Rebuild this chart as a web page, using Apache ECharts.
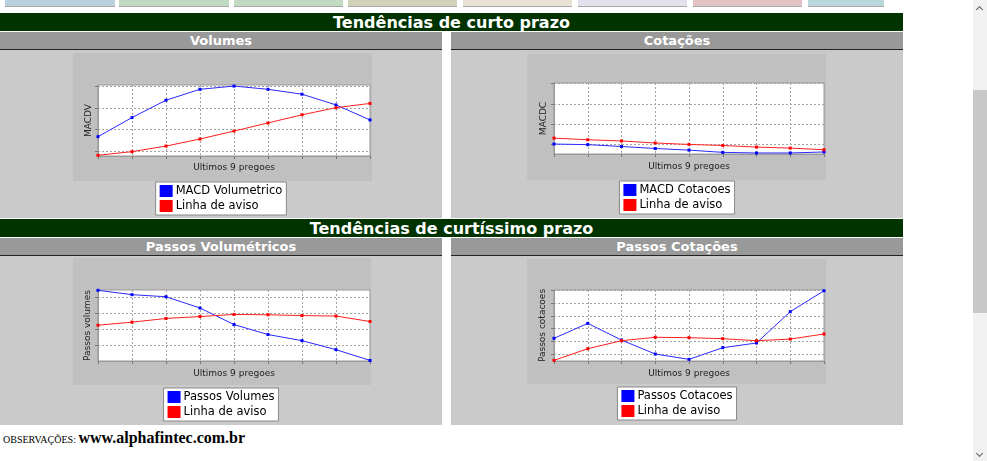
<!DOCTYPE html>
<html>
<head>
<meta charset="utf-8">
<title>Tendências</title>
<script src="https://cdn.jsdelivr.net/npm/echarts@6/dist/echarts.min.js"></script>
<style>
    body { margin:0; width:987px; height:461px; overflow:hidden; position:relative; background:#fff; font-family:"DejaVu Sans", Verdana, sans-serif; }
    .tab { position:absolute; top:0; height:6px; border-bottom:1px solid #a8a8a8; }
    .hdr { position:absolute; left:0; width:903px; height:18px; background:#003300; color:#fff; font-weight:bold; font-size:16px; line-height:19px; text-align:center; white-space:nowrap; }
    .sub { position:absolute; height:17px; background:#999; border-bottom:1px solid #222; color:#fff; font-weight:bold; font-size:13px; line-height:17px; text-align:center; }
    .panel { position:absolute; background:#cacaca; }
</style>
</head>
<body>
<div class="tab" style="left:5px;width:110px;background:#b9d1dc"></div>
<div class="tab" style="left:119px;width:110px;background:#c2d9c2"></div>
<div class="tab" style="left:234px;width:109px;background:#c2d9c2"></div>
<div class="tab" style="left:348px;width:109px;background:#d2d2b9"></div>
<div class="tab" style="left:463px;width:109px;background:#ebe2d6"></div>
<div class="tab" style="left:578px;width:109px;background:#e2e2ec"></div>
<div class="tab" style="left:693px;width:109px;background:#e2c2c4"></div>
<div class="tab" style="left:808px;width:76px;background:#bad9dd"></div>

<div class="hdr" style="top:13px">Tendências de curto prazo</div>
<div class="sub" style="top:32px;left:0;width:442px">Volumes</div>
<div class="sub" style="top:32px;left:451px;width:452px">Cotações</div>
<div class="panel" id="p1" style="top:50px;left:0;width:442px;height:168px"></div>
<div class="panel" id="p2" style="top:50px;left:451px;width:452px;height:168px"></div>

<div class="hdr" style="top:219px">Tendências de curtíssimo prazo</div>
<div class="sub" style="top:238px;left:0;width:442px">Passos Volumétricos</div>
<div class="sub" style="top:238px;left:451px;width:452px">Passos Cotações</div>
<div class="panel" id="p3" style="top:256px;left:0;width:442px;height:169px"></div>
<div class="panel" id="p4" style="top:256px;left:451px;width:452px;height:169px"></div>

<div style="position:absolute;left:3px;top:428px;white-space:nowrap">
    <span style="font-family:'Liberation Serif',serif;font-size:10px">OBSERVAÇÕES: </span><b style="font-family:'Liberation Serif',serif;font-size:16px">www.alphafintec.com.br</b>
</div>

<div style="position:absolute;left:973px;top:0;width:14px;height:461px;background:#f1f1f1"></div>
<div style="position:absolute;left:973px;top:90px;width:14px;height:223px;background:#c8c8c8"></div>
<div style="position:absolute;left:977px;top:7px;width:4px;height:4px;border-top:1.5px solid #606060;border-left:1.5px solid #606060;transform:rotate(45deg)"></div>
<div style="position:absolute;left:977px;top:451px;width:4px;height:4px;border-bottom:1.5px solid #606060;border-right:1.5px solid #606060;transform:rotate(45deg)"></div>

<script>
// ultimos 9 pregoes
var days = ['1', '2', '3', '4', '5', '6', '7', '8', '9'];

// tendencias de curto prazo
var macdVolumetrico = [0.67, 1.56, 2.37, 2.88, 3.03, 2.88, 2.65, 2.15, 1.45];
var avisoVolumes = [-0.2, -0.03, 0.23, 0.56, 0.93, 1.31, 1.69, 2.02, 2.22];
var ticksVolumes = [0, 1, 2, 3];

var macdCotacoes = [0.02, -0.01, -0.1, -0.2, -0.28, -0.39, -0.42, -0.42, -0.37];
var avisoCotacoes = [0.31, 0.23, 0.17, 0.07, 0.0, -0.05, -0.13, -0.18, -0.26];
var ticksCotacoes = [0, 1, 2, 3];

// tendencias de curtissimo prazo
var passosVolumes = [3.43, 3.16, 3.03, 2.33, 1.3, 0.68, 0.3, -0.26, -0.93];
var avisoPassosVol = [1.26, 1.45, 1.68, 1.8, 1.93, 1.91, 1.86, 1.83, 1.49];
var ticksPassosVol = [0, 1, 2, 3];

var passosCotacoes = [1.24, 2.42, 1.1, 0, -0.42, 0.5, 0.87, 3.34, 4.99];
var avisoPassosCot = [-0.5, 0.42, 1.05, 1.32, 1.29, 1.21, 1.05, 1.18, 1.58];
var ticksPassosCot = [0, 1, 2, 3, 4, 5];

var font = 'DejaVu Sans';

function makeChart(id, c){
    var chart = echarts.init(document.getElementById(id));
    chart.setOption({
        animation: false,
        graphic: [{
            type: 'rect', silent: true, z: -1,
            shape: c.box,
            style: { fill: '#c0c0c0' }
        }],
        grid: {
            left: c.grid[0], top: c.grid[1], width: c.grid[2], height: c.grid[3],
            show: true, backgroundColor: '#fff', borderColor: '#999', borderWidth: 1,
            outerBoundsMode: 'none'
        },
        legend: {
            orient: 'vertical', left: 'center', top: c.legendTop,
            backgroundColor: '#fff', borderColor: '#888', borderWidth: 1,
            padding: [3, 4, 3, 4], itemGap: 3, itemWidth: 13, itemHeight: 12,
            icon: 'rect',
            textStyle: { fontFamily: font, fontSize: 11.5, color: '#000', padding: [0, 0, 0, -2] },
            data: [c.names[0], c.names[1]]
        },
        xAxis: {
            type: 'category', data: days, boundaryGap: false,
            name: 'Ultimos 9 pregoes', nameLocation: 'middle', nameGap: c.xGap,
            nameTextStyle: { fontFamily: font, fontSize: 9, color: '#222' },
            axisLine: { onZero: false, lineStyle: { color: '#999' } },
            axisTick: { show: true, length: 3, lineStyle: { color: '#777' } },
            axisLabel: { show: false },
            splitLine: { show: true, lineStyle: { color: '#a4a4a4', type: [2, 2] } }
        },
        yAxis: {
            type: 'value', min: c.range[0], max: c.range[1],
            name: c.yName, nameLocation: 'middle', nameRotate: 90, nameGap: c.yGap,
            nameTextStyle: { fontFamily: font, fontSize: 9, color: '#222' },
            axisLine: { show: true, lineStyle: { color: '#999' } },
            axisTick: { show: true, length: 3, customValues: c.ticks, lineStyle: { color: '#777' } },
            axisLabel: { show: false, customValues: c.ticks },
            splitLine: { show: true, lineStyle: { color: '#a4a4a4', type: [2, 2] } }
        },
        series: [
            {
                name: c.names[0], type: 'line', data: c.blue,
                symbol: 'rect', symbolSize: 3, showAllSymbol: true,
                itemStyle: { color: '#0000ff' }, lineStyle: { color: '#2a2aff', width: 1 }
            },
            {
                name: c.names[1], type: 'line', data: c.red,
                symbol: 'rect', symbolSize: 3, showAllSymbol: true,
                itemStyle: { color: '#ff0000' }, lineStyle: { color: '#ff2020', width: 1 }
            }
        ]
    });
    return chart;
}

makeChart('p1', {
    box: { x: 73, y: 3, width: 299, height: 128 },
    grid: [98, 35, 272, 71], legendTop: 132,
    names: ['MACD Volumetrico', 'Linha de aviso'],
    yName: 'MACDV', yGap: 5, xGap: 7,
    range: [-0.233, 3.08], ticks: ticksVolumes,
    blue: macdVolumetrico, red: avisoVolumes
});

makeChart('p2', {
    box: { x: 76, y: 4, width: 299, height: 126 },
    grid: [103, 33, 270, 71], legendTop: 131,
    names: ['MACD Cotacoes', 'Linha de aviso'],
    yName: 'MACDC', yGap: 6, xGap: 8,
    range: [-0.47, 3.02], ticks: ticksCotacoes,
    blue: macdCotacoes, red: avisoCotacoes
});

makeChart('p3', {
    box: { x: 73, y: 2, width: 298, height: 127 },
    grid: [98, 34, 272, 71], legendTop: 132,
    names: ['Passos Volumes', 'Linha de aviso'],
    yName: 'Passos volumes', yGap: 6, xGap: 8,
    range: [-0.965, 3.45], ticks: ticksPassosVol,
    blue: passosVolumes, red: avisoPassosVol
});

makeChart('p4', {
    box: { x: 76, y: 3, width: 299, height: 125 },
    grid: [103, 34, 270, 71], legendTop: 131,
    names: ['Passos Cotacoes', 'Linha de aviso'],
    yName: 'Passos cotacoes', yGap: 7, xGap: 8,
    range: [-0.55, 5.05], ticks: ticksPassosCot,
    blue: passosCotacoes, red: avisoPassosCot
});
</script>
</body>
</html>
